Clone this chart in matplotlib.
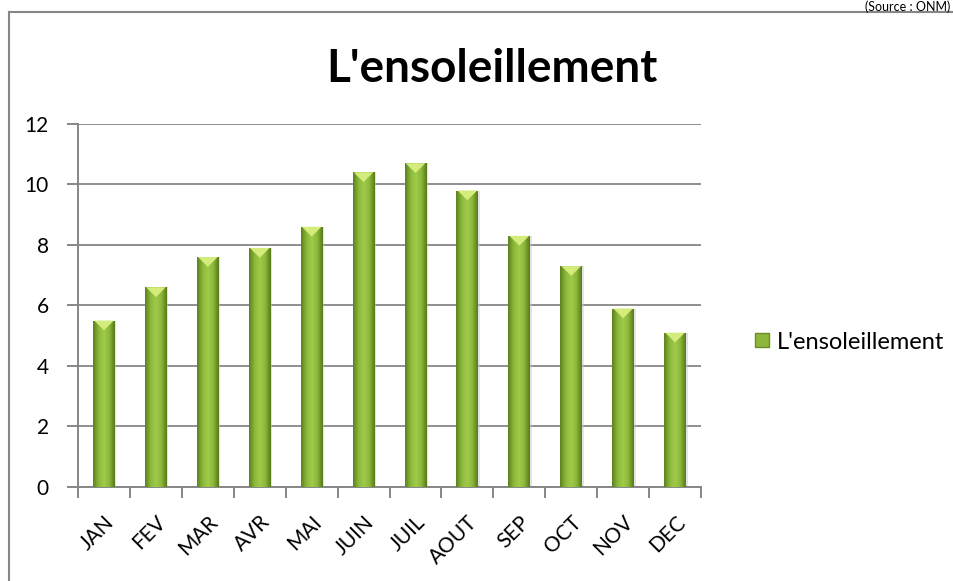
import numpy as np
import matplotlib.pyplot as plt
from matplotlib.colors import LinearSegmentedColormap
from matplotlib.lines import Line2D

mois = ['JAN', 'FEV', 'MAR', 'AVR', 'MAI', 'JUIN', 'JUIL', 'AOUT', 'SEP', 'OCT', 'NOV', 'DEC']
ensoleillement = [5.5, 6.6, 7.6, 7.9, 8.6, 10.4, 10.7, 9.8, 8.3, 7.3, 5.9, 5.1]
graduations = [0, 2, 4, 6, 8, 10, 12]

plt.rcParams['font.family'] = ['Lato', 'DejaVu Sans']

gris = '#868686'
vert = LinearSegmentedColormap.from_list(
    'vert', ['#5c8020', '#8ab838', '#a0cb4a', '#8cb83a', '#587a1c'])

fig = plt.figure(figsize=(9.54, 5.81), dpi=100)
ax = fig.add_axes([0.0818, 0.1618, 0.6530, 0.6248])

x = np.arange(len(mois))
barres = ax.bar(x, ensoleillement, width=0.42, color='#8db63a', zorder=3)

# degrade horizontal dans chaque barre
degrade = np.linspace(0, 1, 64).reshape(1, -1)
for b in barres:
    x0, y0 = b.get_x(), b.get_y()
    im = ax.imshow(degrade, cmap=vert, aspect='auto', zorder=3.5,
                   interpolation='bicubic',
                   extent=(x0, x0 + b.get_width(), y0, y0 + b.get_height()))
    im.set_clip_path(b)
    # ombre legere a droite
    ax.add_patch(plt.Rectangle((x0 + b.get_width(), y0), 0.03, b.get_height(),
                               color='#c8c8c8', alpha=0.5, zorder=2.5, lw=0))

# facette claire au sommet
chevron = [(-1, 0.5), (1, 0.5), (0, -0.5), (-1, 0.5)]
ax.scatter(x, np.array(ensoleillement) - 0.16, marker=chevron, s=200,
           color='#d3ec7c', edgecolors='none', zorder=4)

ax.set_xlim(-0.5, 11.5)
ax.set_ylim(0, 12)
ax.set_yticks(graduations)
ax.yaxis.grid(True, color=gris, lw=1.3, zorder=1)
ax.set_axisbelow(True)

ax.set_xticks(np.arange(-0.5, 12, 1))
ax.set_xticklabels([])
ax.set_xticks(x, minor=True)
ax.set_xticklabels(mois, minor=True, rotation=45, ha='right',
                   rotation_mode='anchor', fontsize=15)
ax.tick_params(axis='x', which='major', length=8, width=1.4, color=gris)
ax.tick_params(axis='x', which='minor', length=0, pad=18)
ax.tick_params(axis='y', length=8, width=1.4, color=gris, labelsize=15, pad=13)

for s in ['top', 'right']:
    ax.spines[s].set_visible(False)
for s in ['left', 'bottom']:
    ax.spines[s].set_color(gris)
    ax.spines[s].set_linewidth(1.4)

fig.text(0.516, 0.882, "L'ensoleillement", ha='center', va='center',
         fontsize=33, fontweight='bold')

poignee = Line2D([], [], marker='s', ls='none', markersize=10,
                 markerfacecolor='#8db63a', markeredgecolor='#6a8f25')
fig.legend([poignee], ["L'ensoleillement"], loc='center left',
           bbox_to_anchor=(0.776, 0.411), frameon=False, fontsize=17,
           borderpad=0, handletextpad=0.24, handlelength=0.8)

# cadre du graphique
fig.add_artist(Line2D([0.0094, 0.0094], [0, 0.979], color=gris, lw=1.5))
fig.add_artist(Line2D([0.0094, 1], [0.979, 0.979], color=gris, lw=1.5))
fig.text(0.996, 0.999, '(Source : ONM)', ha='right', va='top', fontsize=9)

fig.savefig('out.png', dpi=100)
